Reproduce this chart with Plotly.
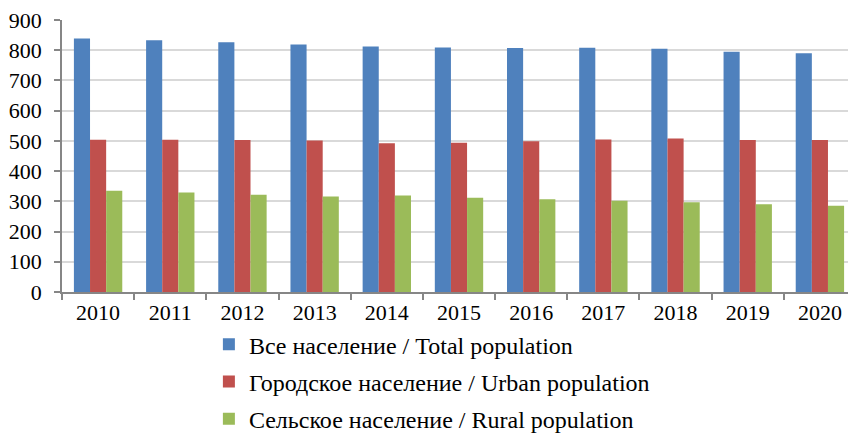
import plotly.graph_objects as go

years = ["2010", "2011", "2012", "2013", "2014", "2015", "2016", "2017", "2018", "2019", "2020"]
total = [839, 833, 826, 819, 812, 809, 807, 808, 805, 795, 790]
urban = [504, 504, 503, 501, 492, 494, 499, 505, 508, 503, 503]
rural = [335, 329, 322, 316, 319, 312, 307, 302, 297, 290, 285]

names = ["Все население / Total population",
         "Городское население / Urban population",
         "Сельское население / Rural population"]
colors = ["#4F81BD", "#C0504D", "#9BBB59"]
yticks = [0, 100, 200, 300, 400, 500, 600, 700, 800, 900]

FONT = "Times New Roman"

fig = go.Figure()
for i, (vals, nm, c) in enumerate(zip([total, urban, rural], names, colors)):
    fig.add_trace(go.Bar(x=years, y=vals, name=nm, marker_color=c,
                         marker_line_width=0, legendgroup=str(i)))

# page body has an 8px default margin, so figure is sized/offset to compensate
fig.update_layout(
    width=848, height=427,
    margin=dict(l=54, r=0, t=12, b=143, autoexpand=False),
    barmode="group", bargap=0.33, bargroupgap=0,
    plot_bgcolor="white", paper_bgcolor="white",
    font=dict(family=FONT, size=22, color="black"),
    legend=dict(orientation="v", x=0.185, xanchor="left", y=-0.111, yanchor="top",
                font=dict(family=FONT, size=24), tracegroupgap=3,
                bgcolor="rgba(0,0,0,0)", itemwidth=30),
    xaxis=dict(type="category", showline=True, linecolor="#868686", linewidth=1.5,
               ticks="outside", tickson="boundaries", ticklen=6, tickcolor="#868686",
               tickwidth=1.5, showgrid=False, tickfont=dict(family=FONT, size=22)),
    yaxis=dict(range=[0, 900], tickvals=yticks, showline=True, linecolor="#868686",
               linewidth=1.5, ticks="outside", ticklen=6, tickcolor="#868686",
               tickwidth=1.5, ticklabelstandoff=8, ticklabeloverflow="allow",
               showgrid=True, gridcolor="#D9D9D9", gridwidth=1.5, zeroline=False,
               tickfont=dict(family=FONT, size=22)),
)
fig.write_html("out.html")
